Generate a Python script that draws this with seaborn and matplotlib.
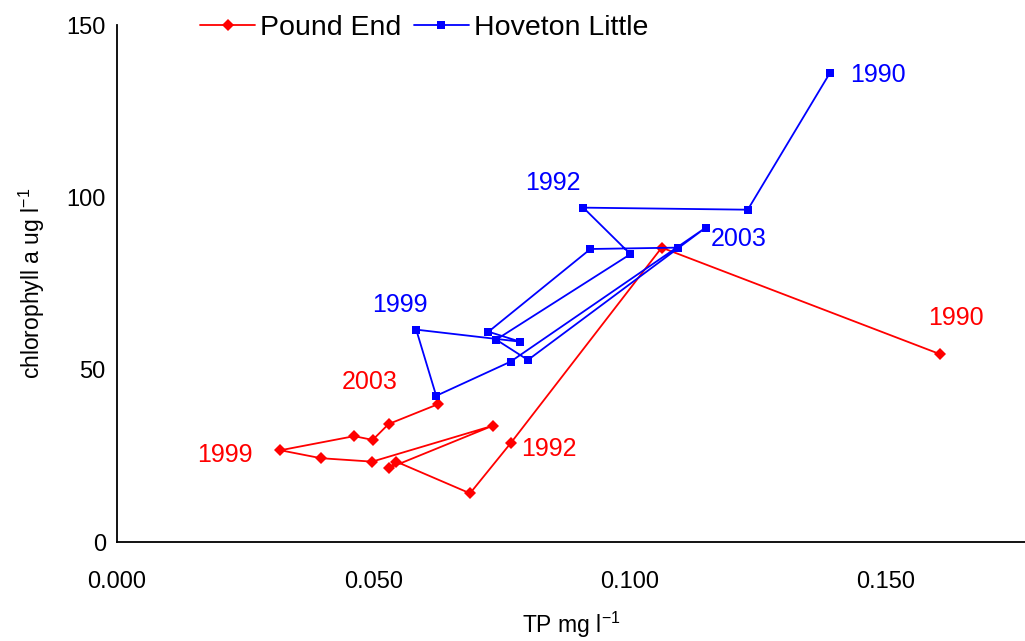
import matplotlib
matplotlib.use("Agg")
import matplotlib.pyplot as plt
import seaborn as sns
import pandas as pd

# ---- data ----
years = list(range(1990, 2004))
pound_tp = [0.1606, 0.1063, 0.0768, 0.0689, 0.0545, 0.0530, 0.0733,
            0.0498, 0.0398, 0.0319, 0.0463, 0.0499, 0.0530, 0.0627]
pound_chl = [54.6, 85.5, 28.7, 14.2, 23.4, 21.5, 33.8,
             23.4, 24.4, 26.7, 30.8, 29.7, 34.3, 40.1]
hov_tp = [0.1391, 0.1231, 0.0910, 0.1002, 0.0740, 0.0802, 0.1149,
          0.0768, 0.0623, 0.0584, 0.0787, 0.0725, 0.0924, 0.1095]
hov_chl = [136.1, 96.5, 97.1, 83.6, 58.8, 52.9, 91.3,
           52.4, 42.5, 61.7, 58.2, 61.1, 85.1, 85.5]

series_names = ["Pound End", "Hoveton Little"]
x_ticks = [0.0, 0.05, 0.10, 0.15]
y_ticks = [0, 50, 100, 150]

pound_labels = [("1990", 0.1583, 65.1), ("1992", 0.0789, 27.1),
                ("1999", 0.0156, 25.3), ("2003", 0.0438, 46.5)]
hov_labels = [("1990", 0.1431, 135.6), ("1992", 0.0797, 104.2),
              ("1999", 0.0498, 68.8), ("2003", 0.1159, 88.0)]

sns.set_style("white")
plt.rcParams['font.family'] = ['Liberation Sans', 'DejaVu Sans']
plt.rcParams['mathtext.default'] = 'regular'
plt.rcParams['text.color'] = 'black'
plt.rcParams['axes.labelcolor'] = 'black'
plt.rcParams['xtick.color'] = 'black'
plt.rcParams['ytick.color'] = 'black'

fig = plt.figure(figsize=(10.25, 6.41), dpi=100)
ax = fig.add_axes([0.1141, 0.154, 0.8859, 0.8065])

df_p = pd.DataFrame({"tp": pound_tp, "chl": pound_chl, "year": years})
df_h = pd.DataFrame({"tp": hov_tp, "chl": hov_chl, "year": years})

sns.lineplot(data=df_p, x="tp", y="chl", sort=False, estimator=None, ax=ax,
             color="#ff0000", marker="D", markersize=6, markeredgewidth=0,
             linewidth=1.3, label=series_names[0])
sns.lineplot(data=df_h, x="tp", y="chl", sort=False, estimator=None, ax=ax,
             color="#0000ff", marker="s", markersize=6, markeredgewidth=0,
             linewidth=1.3, label=series_names[1])

for t, x, y in pound_labels:
    ax.text(x, y, t, color="#ff0000", fontsize=18, ha="left", va="center")
for t, x, y in hov_labels:
    ax.text(x, y, t, color="#0000ff", fontsize=18, ha="left", va="center")

ax.set_xlim(0, 0.1772)
ax.set_ylim(0, 150)
ax.set_xticks(x_ticks)
ax.set_xticklabels([f"{v:.3f}" for v in x_ticks])
ax.set_yticks(y_ticks)
ax.tick_params(axis="both", direction="out", length=6, width=1.2,
               labelsize=17, colors="black")
ax.tick_params(axis="x", pad=15)
ax.tick_params(axis="y", pad=2)
for s in ["top", "right"]:
    ax.spines[s].set_visible(False)
for s in ["left", "bottom"]:
    ax.spines[s].set_color("black")
    ax.spines[s].set_linewidth(1.3)

ax.set_xlabel("TP mg l$^{-1}$", fontsize=16.5, labelpad=12)
ax.set_ylabel("chlorophyll a ug l$^{-1}$", fontsize=16.5, labelpad=14)

leg = ax.legend(loc="center left", bbox_to_anchor=(0.195, 0.957),
                bbox_transform=fig.transFigure, ncol=2, frameon=False,
                fontsize=20.5, handlelength=1.95, columnspacing=0.45,
                handletextpad=0.15, borderpad=0, borderaxespad=0)
for txt in leg.get_texts():
    txt.set_color("black")

fig.savefig("out.png", dpi=100)
